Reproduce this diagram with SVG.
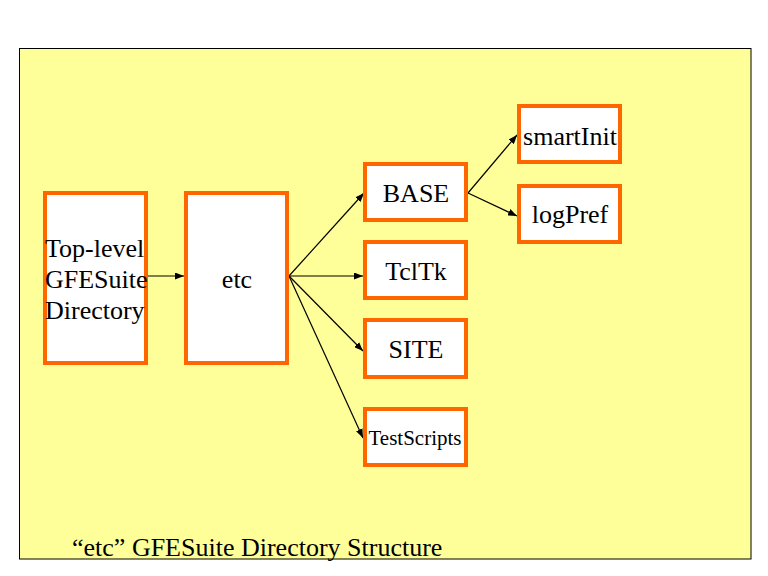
<svg xmlns="http://www.w3.org/2000/svg" width="768" height="576" viewBox="0 0 768 576">
<style>
.box{fill:#ffffff;stroke:#ff6600;stroke-width:4}
.t{font-family:'Liberation Serif','DejaVu Serif','Times New Roman',Times,serif;font-size:26px;fill:#000}
.c{text-anchor:middle}
.ln{stroke:#000;stroke-width:1.2;fill:none;marker-end:url(#ah)}
</style>
<defs>
<marker id="ah" markerWidth="9" markerHeight="7" refX="9" refY="3.5" orient="auto" markerUnits="userSpaceOnUse">
<path d="M0,0 L9,3.5 L0,7 Z" fill="#000"/>
</marker>
</defs>
<rect x="0" y="0" width="768" height="576" fill="#ffffff"/>
<rect x="19.5" y="48.5" width="731.5" height="510.5" fill="#ffff99" stroke="#000" stroke-width="1"/>
<g id="connectors">
<line class="ln" x1="148" y1="276" x2="184" y2="276"/>
<line class="ln" x1="289" y1="276" x2="364" y2="193"/>
<line class="ln" x1="289" y1="276" x2="363" y2="276"/>
<line class="ln" x1="289" y1="276" x2="363" y2="351"/>
<line class="ln" x1="289" y1="276" x2="363" y2="438"/>
<line class="ln" x1="468" y1="193" x2="517" y2="135"/>
<line class="ln" x1="468" y1="193" x2="517" y2="216"/>
</g>
<g id="node-toplevel">
<rect class="box" x="45" y="193" width="101" height="170"/>
<text class="t" font-family="Liberation Serif, serif" x="45" y="257">Top-level</text>
<text class="t" font-family="Liberation Serif, serif" x="45" y="288">GFESuite</text>
<text class="t" font-family="Liberation Serif, serif" x="45" y="319">Directory</text>
</g>
<g id="node-etc">
<rect class="box" x="186" y="193" width="101" height="170"/>
<text class="t c" font-family="Liberation Serif, serif" x="237" y="288">etc</text>
</g>
<g id="node-base">
<rect class="box" x="365" y="164" width="101" height="56"/>
<text class="t c" font-family="Liberation Serif, serif" x="416" y="202">BASE</text>
</g>
<g id="node-tcltk">
<rect class="box" x="365" y="242" width="101" height="56"/>
<text class="t c" font-family="Liberation Serif, serif" x="416" y="280">TclTk</text>
</g>
<g id="node-site">
<rect class="box" x="365" y="320" width="101" height="57"/>
<text class="t c" font-family="Liberation Serif, serif" x="416" y="358">SITE</text>
</g>
<g id="node-testscripts">
<rect class="box" x="365" y="409" width="101" height="56"/>
<text class="t c" font-family="Liberation Serif, serif" x="415" y="445" style="font-size:21px">TestScripts</text>
</g>
<g id="node-smartinit">
<rect class="box" x="519" y="106" width="101" height="56"/>
<text class="t c" font-family="Liberation Serif, serif" x="570" y="145">smartInit</text>
</g>
<g id="node-logpref">
<rect class="box" x="519" y="186" width="101" height="56"/>
<text class="t c" font-family="Liberation Serif, serif" x="570" y="223">logPref</text>
</g>
<text class="t" font-family="Liberation Serif, serif" x="72" y="556">“etc” GFESuite Directory Structure</text>
</svg>
